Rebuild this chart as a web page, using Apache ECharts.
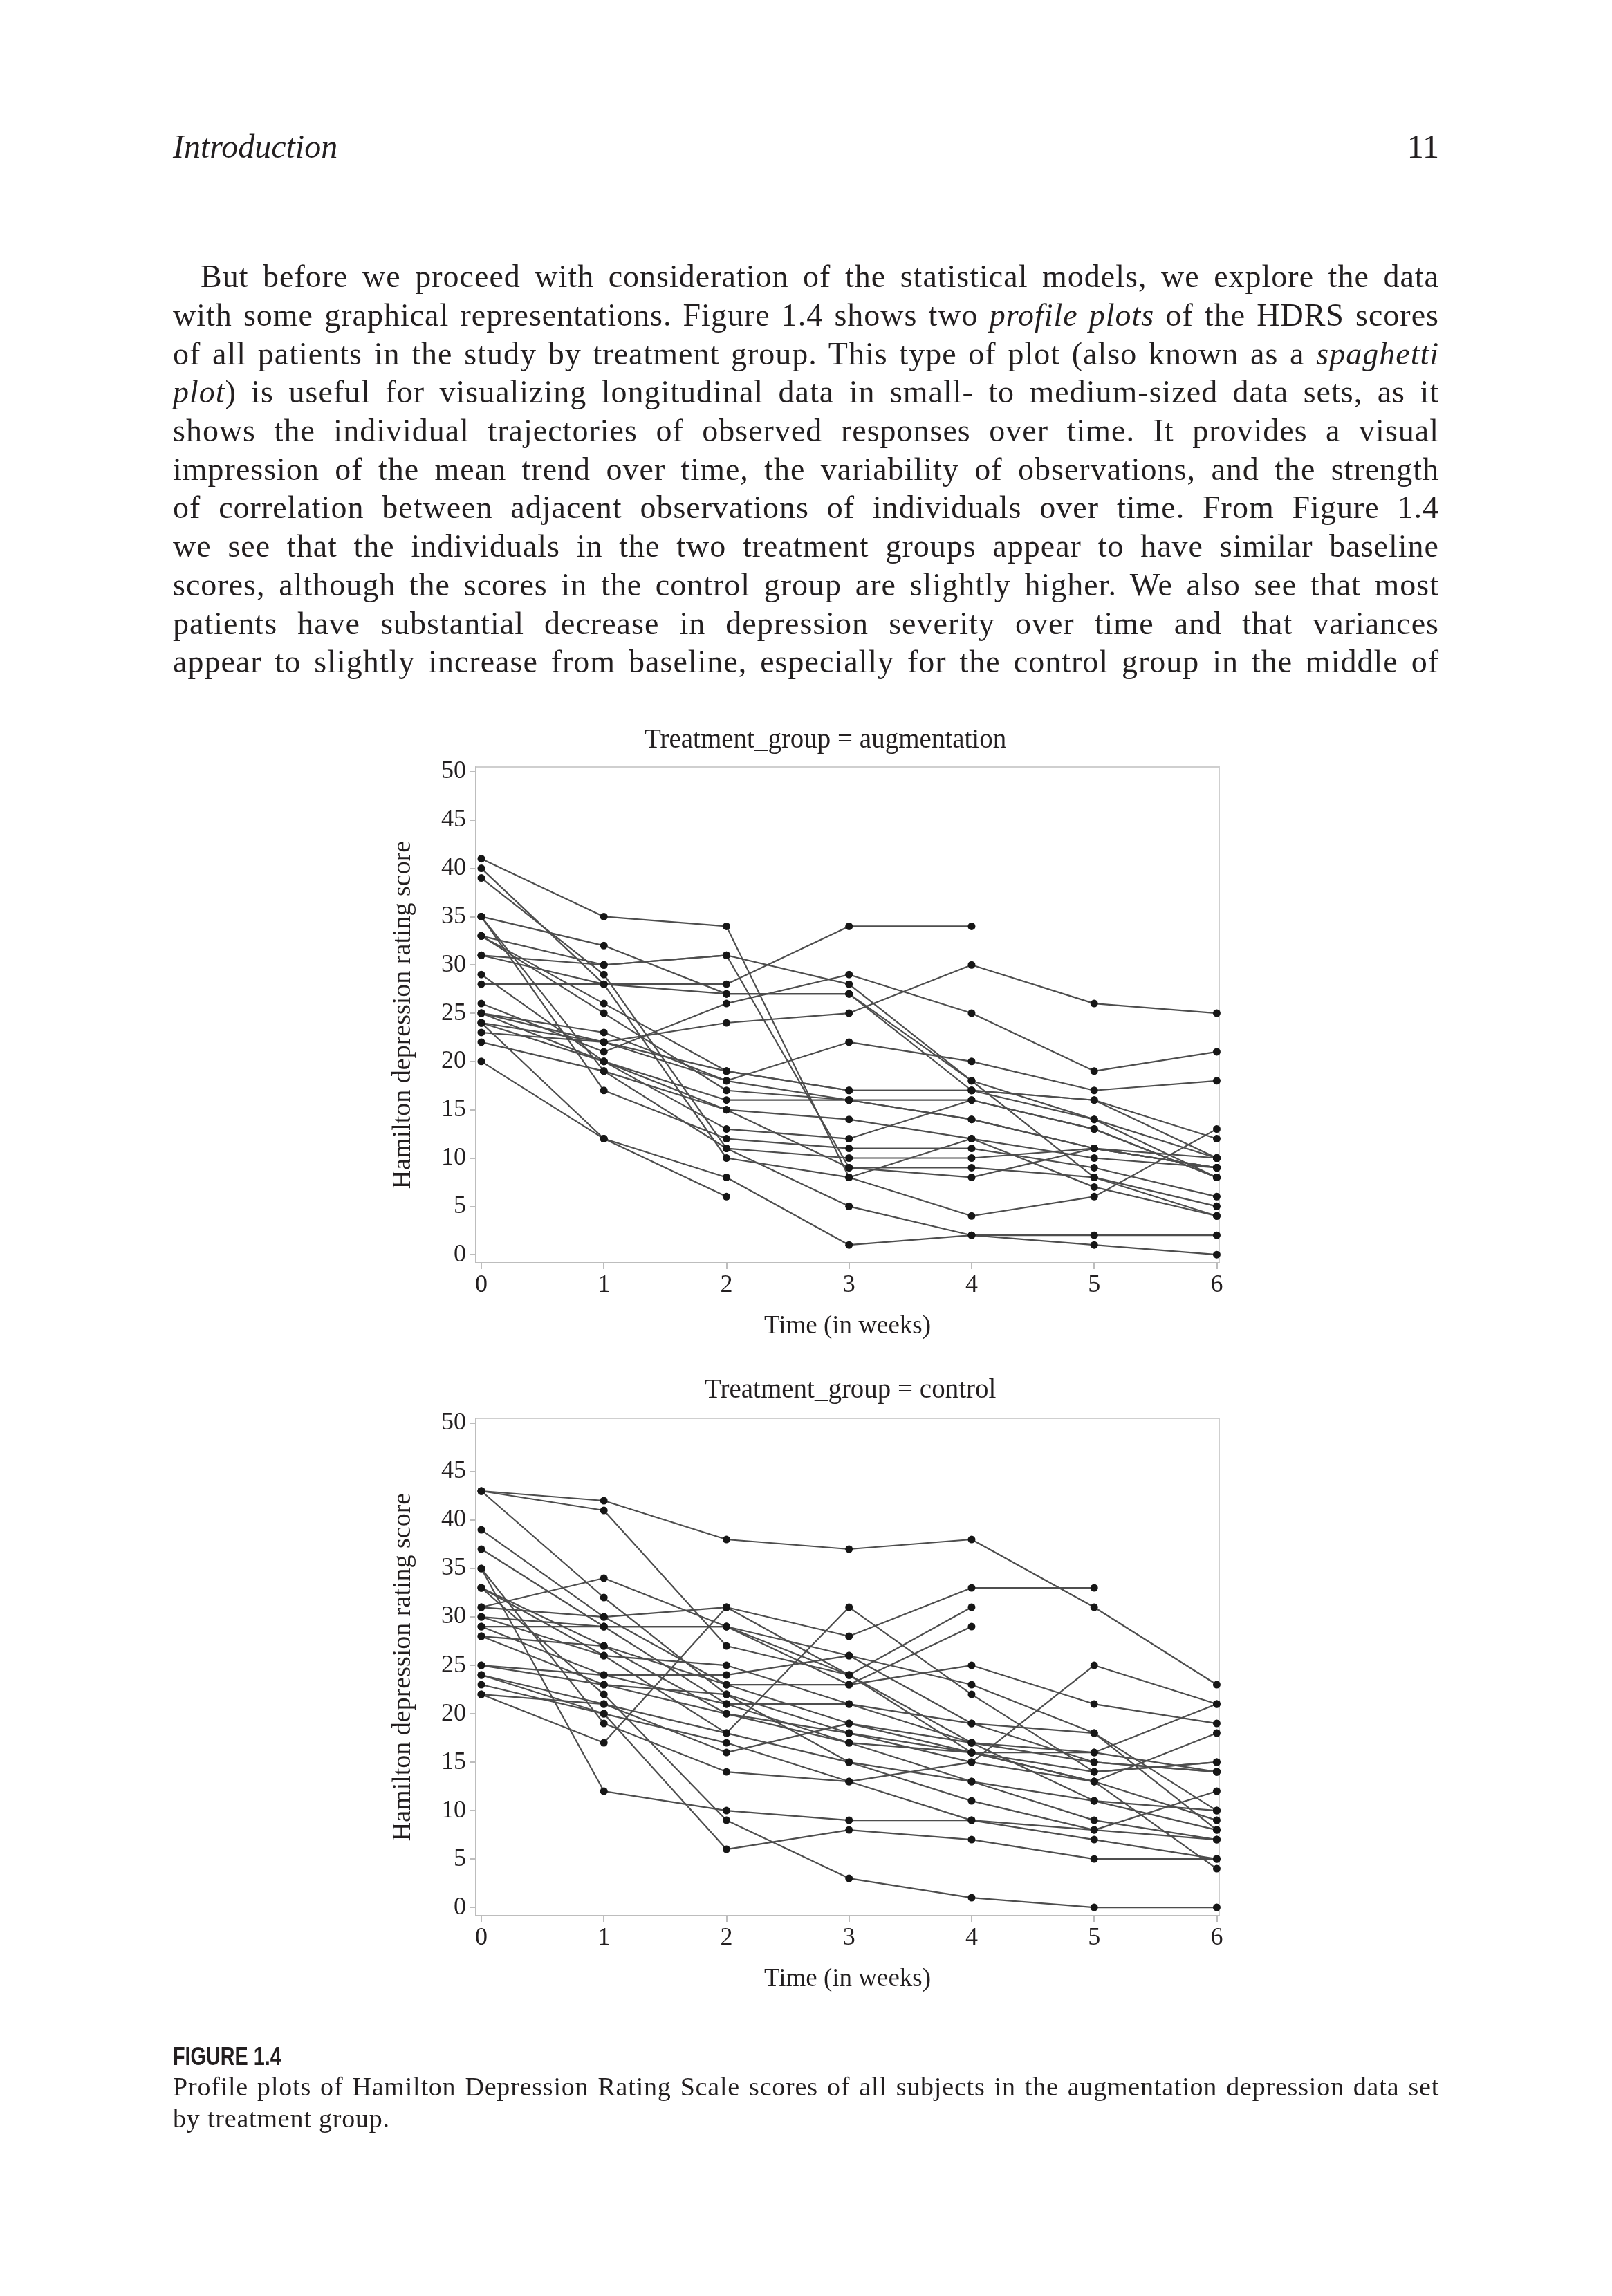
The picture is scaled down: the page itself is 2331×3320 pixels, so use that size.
<!DOCTYPE html>
<html>
<head>
<meta charset="utf-8">
<script src="https://cdn.jsdelivr.net/npm/echarts@6/dist/echarts.min.js"></script>
<style>
html,body{margin:0;padding:0;background:#fff;}
#page{position:relative;width:2331px;height:3320px;overflow:hidden;background:#fff;font-family:"Liberation Serif",serif;color:#231f20;}
#chart{position:absolute;left:0;top:0;width:2331px;height:3320px;}
.txt{position:absolute;z-index:2;}
.bl{position:absolute;left:250px;width:1831px;font-size:46px;letter-spacing:1px;line-height:56px;height:56px;text-align:justify;text-align-last:justify;}
.cap{position:absolute;left:250px;font-size:38px;letter-spacing:0.8px;line-height:46px;height:46px;}
</style>
</head>
<body>
<div id="page">
  <div id="chart"></div>
  <div class="txt" style="left:250px;top:185px;font-size:48px;line-height:54px;font-style:italic;">Introduction</div>
  <div class="txt" style="left:1981px;width:100px;top:185px;font-size:48px;line-height:54px;text-align:right;">11</div>

  <div class="txt bl" style="top:372px;text-indent:40px;">But before we proceed with consideration of the statistical models, we explore the data</div>
  <div class="txt bl" style="top:428px;">with some graphical representations. Figure 1.4 shows two <i>profile plots</i> of the HDRS scores</div>
  <div class="txt bl" style="top:484px;">of all patients in the study by treatment group. This type of plot (also known as a <i>spaghetti</i></div>
  <div class="txt bl" style="top:539px;"><i>plot</i>) is useful for visualizing longitudinal data in small- to medium-sized data sets, as it</div>
  <div class="txt bl" style="top:595px;">shows the individual trajectories of observed responses over time. It provides a visual</div>
  <div class="txt bl" style="top:651px;">impression of the mean trend over time, the variability of observations, and the strength</div>
  <div class="txt bl" style="top:706px;">of correlation between adjacent observations of individuals over time. From Figure 1.4</div>
  <div class="txt bl" style="top:762px;">we see that the individuals in the two treatment groups appear to have similar baseline</div>
  <div class="txt bl" style="top:818px;">scores, although the scores in the control group are slightly higher. We also see that most</div>
  <div class="txt bl" style="top:874px;">patients have substantial decrease in depression severity over time and that variances</div>
  <div class="txt bl" style="top:929px;">appear to slightly increase from baseline, especially for the control group in the middle of</div>

  <div class="txt" style="left:250px;top:2954px;font-family:'Liberation Sans',sans-serif;font-weight:bold;font-size:36px;line-height:40px;transform:scaleX(0.8);transform-origin:left top;">FIGURE 1.4</div>
  <div class="txt cap" style="top:2994px;width:1831px;text-align:justify;text-align-last:justify;">Profile plots of Hamilton Depression Rating Scale scores of all subjects in the augmentation depression data set</div>
  <div class="txt cap" style="top:3040px;">by treatment group.</div>
</div>
<script>
// ---- data ----
const weeks = [0, 1, 2, 3, 4, 5, 6];
const timeTicks = [0, 1, 2, 3, 4, 5, 6];
const scoreTicks = [0, 5, 10, 15, 20, 25, 30, 35, 40, 45, 50];
const panelTitles = ['Treatment_group = augmentation', 'Treatment_group = control'];
const yAxisTitle = 'Hamilton depression rating score';
const xAxisTitle = 'Time (in weeks)';

// HDRS score per subject at weeks 0..6 (null = not observed)
const augmentationScores = [
  [41, 35, 34, 8, 4, 6, 13],
  [40, 28, 10, 8, 12, 10, 9],
  [39, 29, 11, 10, 10, 11, 10],
  [35, 32, 27, 27, 18, 14, 8],
  [35, 17, 12, 11, 11, 9, 6],
  [35, 19, 15, 14, 12, 7, 4],
  [33, 30, 31, 28, 18, 8, 5],
  [33, 26, 19, 17, 17, 16, 12],
  [33, 25, 17, 16, 14, 11, 9],
  [31, 30, 31, 9, 9, 8, 4],
  [31, 28, 28, 34, 34, null, null],
  [29, 20, 13, 12, 16, 13, 8],
  [28, 28, 27, 27, 17, 16, 10],
  [26, 21, 26, 29, 25, 19, 21],
  [25, 22, 24, 25, 30, 26, 25],
  [25, 23, 18, 22, 20, 17, 18],
  [25, 20, 16, 16, 16, 13, 8],
  [24, 22, 19, 17, 17, 14, 10],
  [24, 20, 15, 9, 8, 11, 9],
  [23, 22, 18, 16, 14, 11, 9],
  [22, 19, 11, 5, 2, 2, 2],
  [24, 12, 8, 1, 2, 1, 0],
  [20, 12, 6, null, null, null, null]
];

const controlScores = [
  [43, 42, 38, 37, 38, 31, 23],
  [43, 41, 27, 24, 17, 15, 14],
  [43, 32, 22, 18, 16, 16, 21],
  [39, 30, 23, 23, 29, null, null],
  [37, 29, 21, 17, 13, 9, 7],
  [35, 19, 14, 13, 15, 25, 21],
  [35, 12, 10, 9, 9, 8, 12],
  [33, 27, 20, 17, 16, 13, 18],
  [33, 22, 9, 3, 1, 0, 0],
  [33, 26, 18, 31, 22, 14, 15],
  [31, 34, 29, 26, 23, 18, 8],
  [31, 30, 31, 28, 33, 33, null],
  [30, 29, 29, 24, 31, null, null],
  [30, 26, 25, 21, 19, 15, 14],
  [29, 29, 29, 23, 25, 21, 19],
  [29, 24, 24, 26, 19, 18, 10],
  [28, 27, 23, 19, 17, 11, 10],
  [28, 23, 20, 18, 15, 13, 9],
  [25, 23, 22, 15, 13, 11, 8],
  [25, 24, 21, 21, 17, 16, 14],
  [24, 21, 18, 15, 11, 8, 7],
  [24, 20, 17, 13, 9, 7, 5],
  [23, 20, 6, 8, 7, 5, 5],
  [22, 17, 31, 24, 16, 14, 15],
  [22, 21, 16, 19, 16, 13, 4]
];

// ---- chart ----
const FONT = 'Liberation Serif';
const TXT = '#231f20';
const chart = echarts.init(document.getElementById('chart'), null, {renderer: 'canvas'});

const grids = [
  {left: 688, top: 1109, width: 1075, height: 717},
  {left: 688, top: 2051, width: 1075, height: 719}
];

function mkX(i) {
  return {
    gridIndex: i, type: 'value', min: -0.045, max: 6.02,
    axisLine: {show: true, onZero: false, lineStyle: {color: '#bdbdbd', width: 2}},
    axisTick: {show: true, customValues: timeTicks, length: 9, lineStyle: {color: '#bdbdbd', width: 2}},
    axisLabel: {customValues: timeTicks, fontSize: 36, color: TXT, fontFamily: FONT, margin: 15},
    splitLine: {show: false},
    name: xAxisTitle, nameLocation: 'middle', nameGap: 74,
    nameTextStyle: {fontSize: 37, color: TXT, fontFamily: FONT}
  };
}
function mkY(i) {
  return {
    gridIndex: i, type: 'value', min: -0.85, max: 50.5,
    axisLine: {show: true, onZero: false, lineStyle: {color: '#bdbdbd', width: 2}},
    axisTick: {show: true, customValues: scoreTicks, length: 9, lineStyle: {color: '#bdbdbd', width: 2}},
    axisLabel: {customValues: scoreTicks, fontSize: 36, color: TXT, fontFamily: FONT, margin: 14},
    splitLine: {show: false},
    name: yAxisTitle, nameLocation: 'middle', nameGap: 86, nameRotate: 90,
    nameTextStyle: {fontSize: 38, color: TXT, fontFamily: FONT}
  };
}

function mkSeries(groups, idx) {
  return groups.map(function (traj) {
    const data = [];
    weeks.forEach(function (w, k) { if (traj[k] !== null) data.push([w, traj[k]]); });
    return {
      type: 'line', xAxisIndex: idx, yAxisIndex: idx, data: data,
      symbol: 'circle', symbolSize: 11, showAllSymbol: true,
      itemStyle: {color: '#161616'},
      lineStyle: {color: '#4d4d4d', width: 2.2},
      silent: true, animation: false
    };
  });
}

chart.setOption({
  backgroundColor: 'transparent',
  animation: false,
  title: [
    {text: panelTitles[0], left: 927, top: 1046, textStyle: {fontSize: 39, fontWeight: 'normal', color: TXT, fontFamily: FONT}},
    {text: panelTitles[1], left: 1014, top: 1986, textStyle: {fontSize: 39, fontWeight: 'normal', color: TXT, fontFamily: FONT}}
  ],
  grid: grids.map(function (g) {
    return Object.assign({show: true, borderColor: '#cfcfcf', borderWidth: 2, backgroundColor: 'transparent'}, g);
  }),
  xAxis: [mkX(0), mkX(1)],
  yAxis: [mkY(0), mkY(1)],
  series: mkSeries(augmentationScores, 0).concat(mkSeries(controlScores, 1))
});
</script>
</body>
</html>
